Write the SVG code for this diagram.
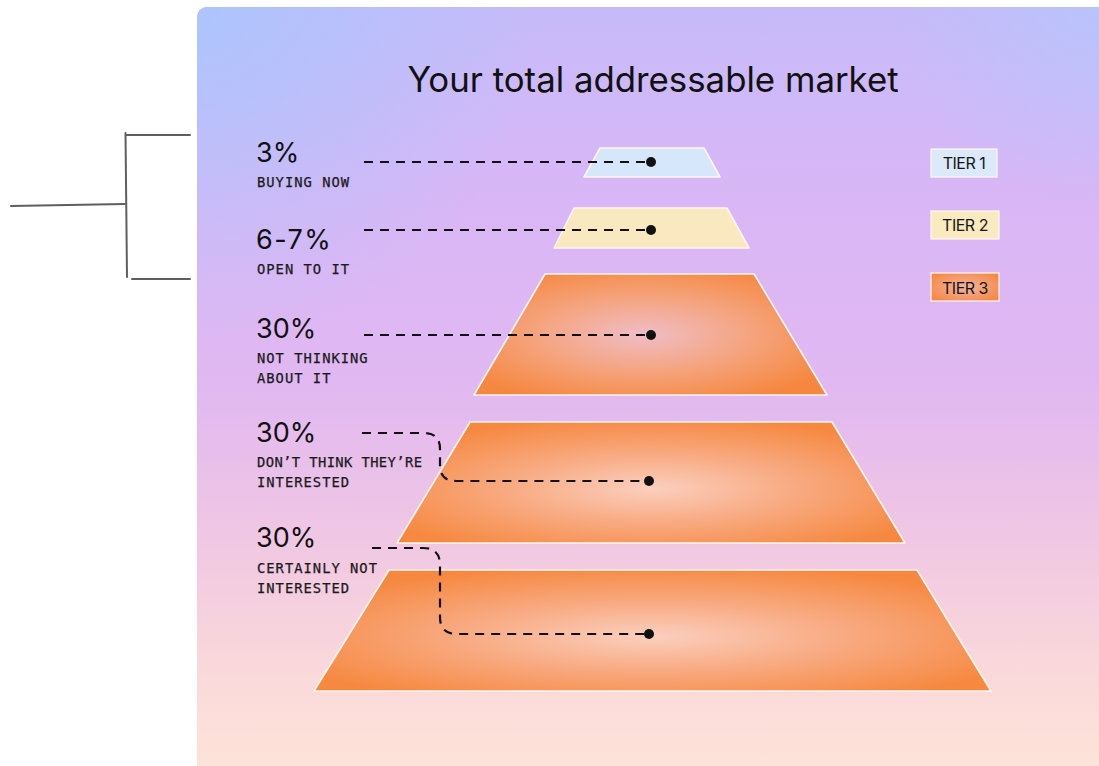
<svg xmlns="http://www.w3.org/2000/svg" width="1099" height="766" viewBox="0 0 1099 766">
  <defs>
    <linearGradient id="cardBg" gradientUnits="userSpaceOnUse" x1="0" y1="7" x2="0" y2="766">
      <stop offset="0" stop-color="#c6bbfa"/>
      <stop offset="0.25" stop-color="#d9b6f6"/>
      <stop offset="0.5" stop-color="#e1b8f1"/>
      <stop offset="0.7" stop-color="#f0c7e3"/>
      <stop offset="0.88" stop-color="#fad9da"/>
      <stop offset="1" stop-color="#fde3d9"/>
    </linearGradient>
    <radialGradient id="cornerBlueL" gradientUnits="userSpaceOnUse" cx="197" cy="7" r="340">
      <stop offset="0" stop-color="#a9c6fd" stop-opacity="0.85"/>
      <stop offset="1" stop-color="#a9c6fd" stop-opacity="0"/>
    </radialGradient>
    <radialGradient id="cornerBlueR" gradientUnits="userSpaceOnUse" cx="1099" cy="7" r="200">
      <stop offset="0" stop-color="#b4c6fc" stop-opacity="0.7"/>
      <stop offset="1" stop-color="#b4c6fc" stop-opacity="0"/>
    </radialGradient>
    <radialGradient id="glowMid" cx="0.48" cy="0.5" r="0.6">
      <stop offset="0" stop-color="#f0bdc6"/>
      <stop offset="0.5" stop-color="#f5a47f"/>
      <stop offset="1" stop-color="#f6873f"/>
    </radialGradient>
    <radialGradient id="glowLow" cx="0.5" cy="0.55" r="0.6">
      <stop offset="0" stop-color="#fbcfbf"/>
      <stop offset="0.5" stop-color="#f8a87e"/>
      <stop offset="1" stop-color="#f6883f"/>
    </radialGradient>
    <radialGradient id="glowBadge" cx="0.5" cy="0.5" r="0.6">
      <stop offset="0" stop-color="#f3b2a6"/>
      <stop offset="1" stop-color="#f58a45"/>
    </radialGradient>
    <style>
      .bracket { stroke: #5f5f5f; stroke-width: 2; fill: none; stroke-linecap: round; }
      .title { font-family: Inter, "Liberation Sans", sans-serif; font-size: 34.8px; fill: #111; }
      .pct { font-family: Inter, "Liberation Sans", sans-serif; font-size: 27px; fill: #111; }
      .lbl { font-family: "DejaVu Sans Mono", "Liberation Mono", monospace; font-size: 13.8px; fill: #1a1a1a; letter-spacing: 1px; stroke: #1a1a1a; stroke-width: 0.25px; }
      .tier { stroke: #fff6ee; stroke-width: 1.6; stroke-linejoin: round; }
      .badge { stroke: #fff8f0; stroke-width: 1.2; }
      .badgeText { font-family: Inter, "Liberation Sans", sans-serif; font-size: 16px; fill: #151515; text-anchor: middle; letter-spacing: -0.5px; }
      .dash { stroke: #111; stroke-width: 2.2; fill: none; stroke-dasharray: 9 7; }
      .dot { fill: #111; }
    </style>
  </defs>

  <rect width="1099" height="766" fill="#ffffff"/>

  <!-- bracket sketch outside the card -->
  <g id="bracket">
    <line class="bracket" x1="126" y1="135" x2="190" y2="135"/>
    <line class="bracket" x1="125.5" y1="133" x2="127" y2="277"/>
    <line class="bracket" x1="132" y1="279" x2="190" y2="279"/>
    <line class="bracket" x1="11" y1="206" x2="125" y2="204"/>
  </g>

  <!-- gradient card -->
  <g id="card">
    <rect x="197" y="7" width="940" height="800" rx="10" fill="url(#cardBg)"/>
    <rect x="197" y="7" width="940" height="800" rx="10" fill="url(#cornerBlueL)"/>
    <rect x="197" y="7" width="940" height="800" rx="10" fill="url(#cornerBlueR)"/>
  </g>

  <text class="title" x="653" y="92" text-anchor="middle">Your total addressable market</text>

  <!-- pyramid tiers -->
  <g id="tier-buying-now">
    <polygon class="tier" points="600,148 704,148 720,177 584,177" fill="#d6e6fb"/>
  </g>
  <g id="tier-open-to-it">
    <polygon class="tier" points="574,208 727,208 749,248 554,248" fill="#fae9c0"/>
  </g>
  <g id="tier-not-thinking">
    <polygon class="tier" points="545,274 754,274 827,395 474,395" fill="url(#glowMid)"/>
  </g>
  <g id="tier-dont-think">
    <polygon class="tier" points="470,422 832,422 905,543 397,543" fill="url(#glowLow)"/>
  </g>
  <g id="tier-not-interested">
    <polygon class="tier" points="389,570 917,570 991,691 314,691" fill="url(#glowLow)"/>
  </g>

  <!-- left labels -->
  <g id="label-buying-now">
    <text class="pct" x="256" y="162">3%</text>
    <text class="lbl" x="257" y="187">BUYING NOW</text>
  </g>
  <g id="label-open-to-it">
    <text class="pct" x="256" y="249" letter-spacing="1.5">6-7%</text>
    <text class="lbl" x="257" y="274">OPEN TO IT</text>
  </g>
  <g id="label-not-thinking">
    <text class="pct" x="256" y="338">30%</text>
    <text class="lbl" x="257" y="363">NOT THINKING</text>
    <text class="lbl" x="257" y="383">ABOUT IT</text>
  </g>
  <g id="label-dont-think">
    <text class="pct" x="256" y="442">30%</text>
    <text class="lbl" x="257" y="467" textLength="166" lengthAdjust="spacing" letter-spacing="0">DON’T THINK THEY’RE</text>
    <text class="lbl" x="257" y="487">INTERESTED</text>
  </g>
  <g id="label-not-interested">
    <text class="pct" x="256" y="547">30%</text>
    <text class="lbl" x="257" y="573">CERTAINLY NOT</text>
    <text class="lbl" x="257" y="593">INTERESTED</text>
  </g>

  <!-- tier legend -->
  <g id="badge-tier-1">
    <rect class="badge" x="931" y="149" width="66" height="28" fill="#dbe9fb"/>
    <text class="badgeText" x="964" y="169">TIER 1</text>
  </g>
  <g id="badge-tier-2">
    <rect class="badge" x="931" y="211" width="68" height="28" fill="#fbe9bf"/>
    <text class="badgeText" x="965" y="231">TIER 2</text>
  </g>
  <g id="badge-tier-3">
    <rect class="badge" x="931" y="273" width="68" height="28" fill="url(#glowBadge)"/>
    <text class="badgeText" x="965" y="294">TIER 3</text>
  </g>

  <!-- leader lines from labels to tier centres -->
  <g id="connectors">
    <path class="dash" d="M364,162 H651"/>
    <path class="dash" d="M364,230 H651"/>
    <path class="dash" d="M364,335 H651"/>
    <path class="dash" d="M362,433 H424 Q440,433 440,449 V465 Q440,481 456,481 H649"/>
    <path class="dash" d="M372,548 H423 Q440,548 440,565 V617 Q440,634 457,634 H649"/>
    <circle class="dot" cx="651" cy="162" r="5"/>
    <circle class="dot" cx="651" cy="230" r="5"/>
    <circle class="dot" cx="651" cy="335" r="5"/>
    <circle class="dot" cx="649" cy="481" r="5"/>
    <circle class="dot" cx="649" cy="634" r="5"/>
  </g>
</svg>
